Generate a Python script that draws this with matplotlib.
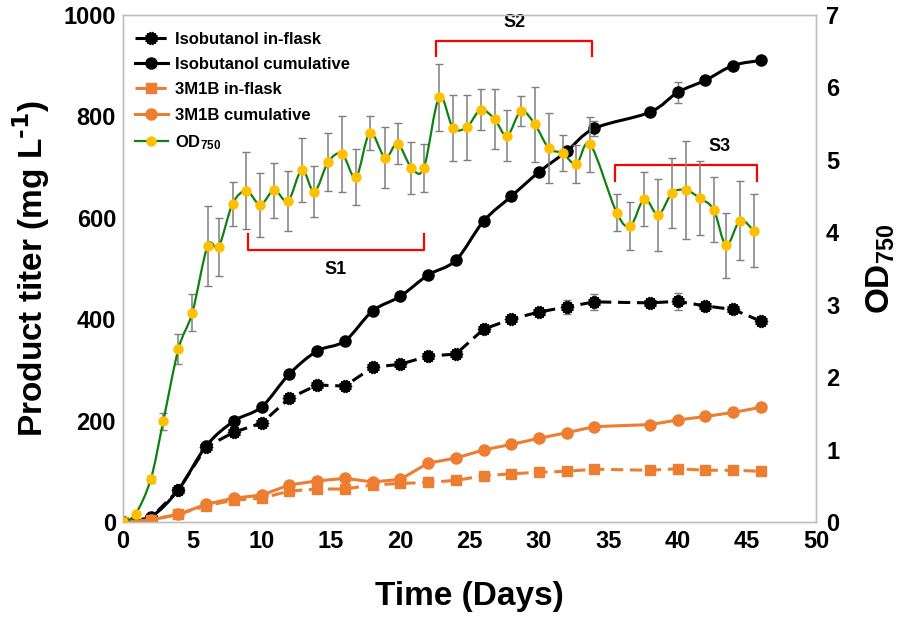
import matplotlib
matplotlib.use('Agg')
import matplotlib.pyplot as plt
import numpy as np
from matplotlib.path import Path
from matplotlib.patches import PathPatch
from matplotlib.lines import Line2D

plt.rcParams['font.family'] = ['Liberation Sans', 'DejaVu Sans']
plt.rcParams['font.weight'] = 'bold'
plt.rcParams['mathtext.default'] = 'regular'

# product titers (mg/L), sampled every 2 days (no day 36)
days = [0, 2, 4, 6, 8, 10, 12, 14, 16, 18, 20, 22, 24, 26, 28, 30, 32, 34, 38, 40, 42, 44, 46]
iso_flask = [0, 8, 63, 148, 177, 195, 244, 270, 268, 305, 311, 327, 331, 380, 400, 414, 424, 434, 432, 435, 426, 419, 396]
iso_flask_err = [0, 0, 0, 0, 0, 0, 0, 0, 0, 0, 0, 0, 0, 0, 0, 0, 14, 16, 0, 17, 0, 0, 0]
iso_cum = [0, 10, 64, 150, 199, 227, 292, 337, 357, 416, 445, 487, 516, 593, 642, 690, 731, 776, 808, 847, 871, 900, 910]
iso_cum_err = [0, 0, 0, 0, 0, 0, 0, 0, 0, 0, 0, 0, 0, 0, 0, 0, 0, 15, 0, 20, 0, 0, 0]
mb_flask = [0, 4, 15, 32, 43, 47, 61, 65, 65, 73, 76, 78, 82, 91, 95, 98, 100, 104, 102, 105, 102, 102, 100]
mb_cum = [0, 4, 15, 35, 47, 53, 73, 81, 86, 79, 84, 116, 126, 142, 153, 165, 176, 188, 192, 201, 208, 216, 226]

# OD750, roughly daily
od_days = [0, 0.9, 2, 2.9, 4, 5, 6.1, 6.9, 7.9, 8.9, 9.9, 10.9, 11.9, 12.9, 13.8, 14.8,
           15.8, 16.8, 17.8, 18.9, 19.8, 20.8, 21.7, 22.8, 23.8, 24.8, 25.8, 26.8, 27.7,
           28.7, 29.7, 30.7, 31.7, 32.7, 33.7, 35.6, 36.6, 37.6, 38.6, 39.6, 40.6, 41.6,
           42.6, 43.5, 44.5, 45.5]
od = [0, 0.11, 0.59, 1.39, 2.39, 2.89, 3.81, 3.80, 4.39, 4.57, 4.38, 4.58, 4.43, 4.86,
      4.56, 4.97, 5.08, 4.76, 5.37, 5.03, 5.22, 4.89, 4.89, 5.86, 5.44, 5.45, 5.69, 5.56,
      5.33, 5.67, 5.49, 5.16, 5.09, 4.94, 5.21, 4.27, 4.09, 4.46, 4.24, 4.54, 4.58, 4.47,
      4.31, 3.82, 4.16, 4.02]
od_err = [0, 0.02, 0.05, 0.12, 0.21, 0.25, 0.55, 0.40, 0.30, 0.53, 0.44, 0.38, 0.42, 0.44,
          0.35, 0.40, 0.52, 0.39, 0.24, 0.42, 0.28, 0.36, 0.33, 0.46, 0.46, 0.45, 0.28, 0.41,
          0.35, 0.21, 0.52, 0.48, 0.25, 0.26, 0.38, 0.25, 0.33, 0.37, 0.50, 0.48, 0.68, 0.51,
          0.45, 0.45, 0.55, 0.50]

BLACK = '#000000'
ORANGE = '#ED7D31'
GREEN = '#108010'
YELLOW = '#FFC000'
GRAY = '#7F7F7F'
RED = '#FF0000'


def smooth_patch(x, y, **kw):
    # Excel-like smoothed line: Catmull-Rom segments as cubic Bezier curves
    p = np.column_stack([x, y]).astype(float)
    ext = np.vstack([p[0], p, p[-1]])
    verts = [p[0]]
    codes = [Path.MOVETO]
    for i in range(1, len(ext) - 2):
        c1 = ext[i] + (ext[i + 1] - ext[i - 1]) / 6
        c2 = ext[i + 1] - (ext[i + 2] - ext[i]) / 6
        verts += [c1, c2, ext[i + 1]]
        codes += [Path.CURVE4] * 3
    return PathPatch(Path(verts, codes), fill=False, **kw)


# serrated round marker used for isobutanol in-flask
ang = np.linspace(0, 2 * np.pi, 29)[:-1]
rad = np.where(np.arange(28) % 2 == 0, 1.0, 0.8)
serr = Path(np.column_stack([rad * np.cos(ang), rad * np.sin(ang)]).tolist() + [[1, 0]], closed=True)

fig = plt.figure(figsize=(8.98, 6.17), dpi=100)
ax = fig.add_axes([0.137, 0.154, 0.772, 0.822])
ax2 = ax.twinx()

dash = (0, (4, 2.2))

# isobutanol
ax.errorbar(days, iso_flask, yerr=iso_flask_err, fmt='none', ecolor=GRAY, elinewidth=1, capsize=3, zorder=2)
ax.errorbar(days, iso_cum, yerr=iso_cum_err, fmt='none', ecolor=GRAY, elinewidth=1, capsize=3, zorder=2)
ax.plot(days, iso_flask, color=BLACK, lw=2.2, ls=dash, marker=serr, ms=9, zorder=3)
ax.add_patch(smooth_patch(days, iso_cum, edgecolor=BLACK, lw=2.2, zorder=3))
ax.plot(days, iso_cum, ls='none', color=BLACK, marker='o', ms=8, zorder=3)

# 3M1B
ax.plot(days, mb_flask, color=ORANGE, lw=2.2, ls=dash, marker='s', ms=7.5, zorder=3)
ax.plot(days, mb_cum, color=ORANGE, lw=2.2, marker='o', ms=8, zorder=3)

# OD750
ax2.errorbar(od_days, od, yerr=od_err, fmt='none', ecolor=GRAY, elinewidth=1.1, capsize=3, zorder=2)
ax2.add_patch(smooth_patch(od_days, od, edgecolor=GREEN, lw=1.6, zorder=3))
ax2.plot(od_days, od, ls='none', marker='o', ms=6.5, color=YELLOW, zorder=4)

ax.set_xlim(0, 50)
ax.set_ylim(0, 1000)
ax2.set_ylim(0, 7)
ax.set_xticks(range(0, 51, 5))
ax.set_yticks(range(0, 1001, 200))
ax2.set_yticks(range(0, 8))

for a in (ax, ax2):
    for s in a.spines.values():
        s.set_color('#BFBFBF')
        s.set_linewidth(1)
    a.tick_params(length=0, labelsize=17)
ax.tick_params(axis='y', pad=5)
ax.tick_params(axis='x', pad=6)
ax2.tick_params(axis='y', pad=7)

ax.set_xlabel('Time (Days)', fontsize=24, fontweight='bold', labelpad=20)
ax.set_ylabel('Product titer (mg L$^{\\text{-1}}$)', fontsize=24, fontweight='bold', labelpad=8)
ax2.set_ylabel('OD$_{750}$', fontsize=24, fontweight='bold', labelpad=18)

# stage brackets
ax.plot([9.0, 9.0, 21.7, 21.7], [568, 536, 536, 568], color=RED, lw=1.6, zorder=5)
ax.text(15.35, 497, 'S1', ha='center', va='center', fontsize=13, fontweight='bold')
ax.plot([22.6, 22.6, 33.8, 33.8], [919, 949, 949, 919], color=RED, lw=1.6, zorder=5)
ax.text(28.2, 984, 'S2', ha='center', va='center', fontsize=13, fontweight='bold')
ax.plot([35.5, 35.5, 45.7, 45.7], [673, 704, 704, 673], color=RED, lw=1.6, zorder=5)
ax.text(43.0, 740, 'S3', ha='center', va='center', fontsize=13, fontweight='bold')

handles = [
    Line2D([], [], color=BLACK, lw=2.2, ls=dash, marker=serr, ms=9),
    Line2D([], [], color=BLACK, lw=2.2, marker='o', ms=8),
    Line2D([], [], color=ORANGE, lw=2.2, ls=dash, marker='s', ms=7.5),
    Line2D([], [], color=ORANGE, lw=2.2, marker='o', ms=8),
    Line2D([], [], color=GREEN, lw=1.6, marker='o', ms=6.5, mfc=YELLOW, mec=YELLOW),
]
labels = ['Isobutanol in-flask', 'Isobutanol cumulative', '3M1B in-flask', '3M1B cumulative', 'OD$_{750}$']
ax2.legend(handles, labels, loc='upper left', bbox_to_anchor=(0.0, 0.99), frameon=False,
           prop={'size': 12, 'weight': 'bold'}, handlelength=2.0, handletextpad=0.4,
           labelspacing=0.62, borderaxespad=0.3, numpoints=1)

fig.savefig('out.png', dpi=100)
